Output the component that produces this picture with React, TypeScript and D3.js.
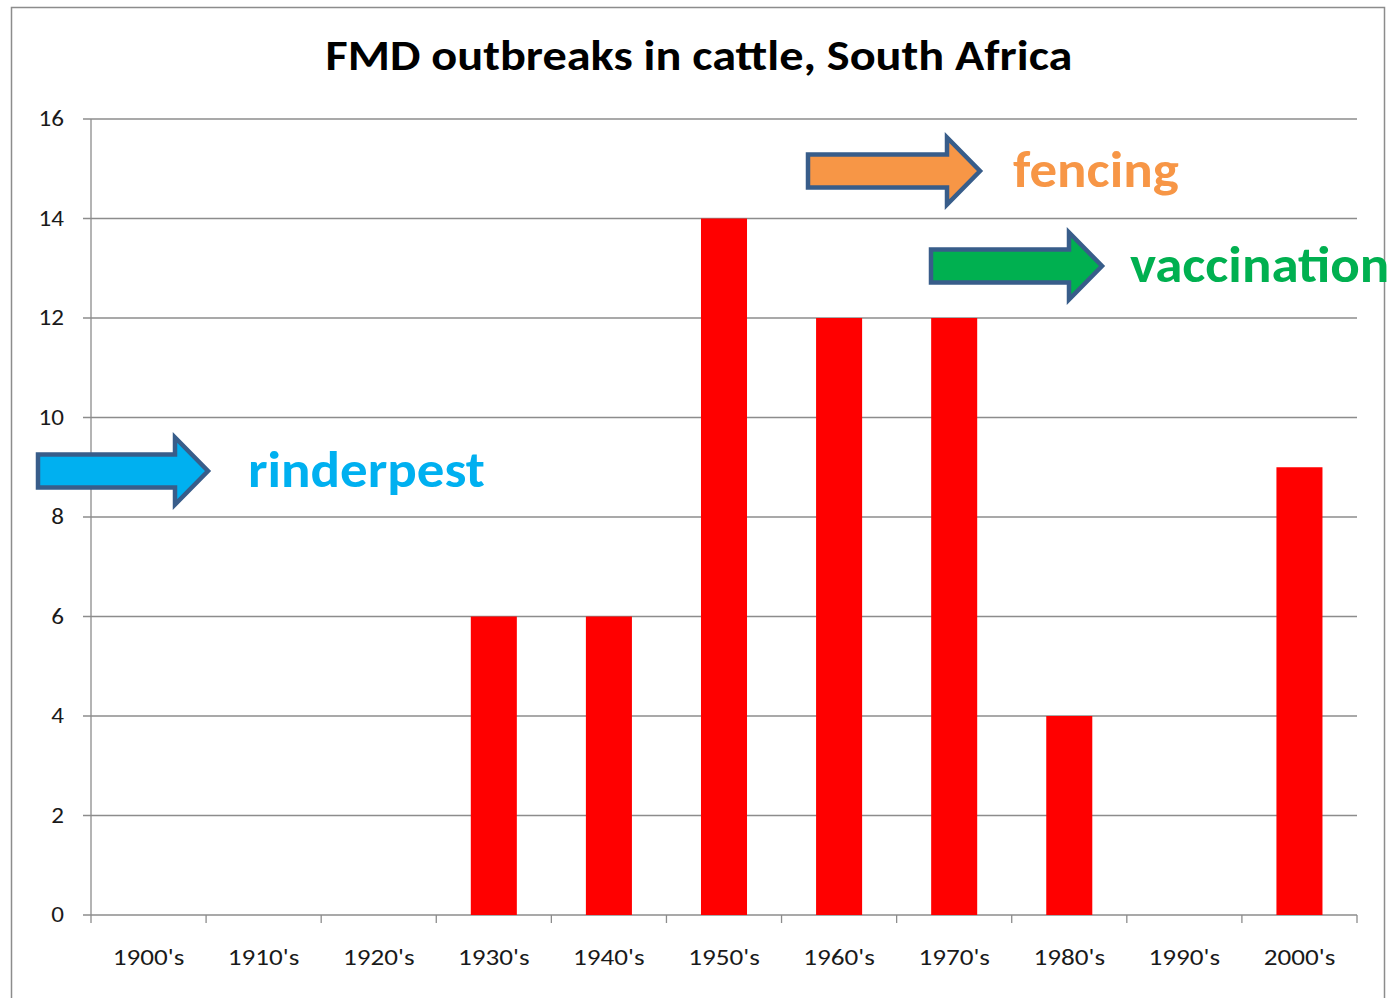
import React from "react";
import * as d3 from "d3";

const categories = ["1900's", "1910's", "1920's", "1930's", "1940's", "1950's", "1960's", "1970's", "1980's", "1990's", "2000's"];
const outbreaks = [0, 0, 0, 6, 6, 14, 12, 12, 4, 0, 9];
const yTicks = [0, 2, 4, 6, 8, 10, 12, 14, 16];
const titleText = "FMD outbreaks in cattle, South Africa";
const annotations = [
  { label: "rinderpest", color: "#00B0F0", x0: 38, x1: 208, y: 471, tx: 248 },
  { label: "fencing", color: "#F79646", x0: 808, x1: 980, y: 171, tx: 1013 },
  { label: "vaccination", color: "#00B050", x0: 931, x1: 1102, y: 266, tx: 1130 },
];

const W = 1390, H = 998;
const left = 91, right = 1357, top = 119, bottom = 915;
const FONT = "Carlito, Calibri, Lato, 'Open Sans', sans-serif";

function arrowPath(x0: number, x1: number, y: number) {
  const sh = 16.5;
  const hh = 33.5;
  const hx = x1 - 33;
  return `M${x0},${y - sh} L${hx},${y - sh} L${hx},${y - hh} L${x1},${y} L${hx},${y + hh} L${hx},${y + sh} L${x0},${y + sh} Z`;
}

function SText(props: { x: number; y: number; sx: number; anchor?: string; size: number; weight?: string; fill: string; children: React.ReactNode }) {
  return (
    <text
      transform={`translate(${props.x},${props.y}) scale(${props.sx},1)`}
      textAnchor={props.anchor || "start"}
      fontFamily={FONT}
      fontSize={props.size}
      fontWeight={props.weight || "normal"}
      fill={props.fill}
    >
      {props.children}
    </text>
  );
}

export default function App() {
  const x = d3.scaleBand<string>().domain(categories).range([left, right]).paddingInner(0.6).paddingOuter(0.3);
  const xb = d3.scaleBand<string>().domain(categories).range([left, right]);
  const y = d3.scaleLinear().domain([0, 16]).range([bottom, top]);
  const gridColor = "#8c8c8c";
  return (
    <svg width={W} height={H} style={{ position: "absolute", left: 0, top: 0, background: "#fff" }}>
      <rect x={11.5} y={7.5} width={1373} height={1000} fill="#fff" stroke="#8c8c8c" strokeWidth={1.5} />
      <SText x={699} y={70} sx={1.15} anchor="middle" size={42} weight="bold" fill="#000">{titleText}</SText>
      {yTicks.map((t) => (
        <g key={t}>
          <line x1={left - 8} x2={right} y1={y(t)} y2={y(t)} stroke={gridColor} strokeWidth={1.3} />
          <SText x={64} y={y(t) + 7} sx={1.14} anchor="end" size={22} fill="#1a1a1a">{t}</SText>
        </g>
      ))}
      <line x1={left} x2={left} y1={top} y2={bottom} stroke={gridColor} strokeWidth={1.3} />
      {categories.map((c) => (
        <line key={"t" + c} x1={xb(c)!} x2={xb(c)!} y1={bottom} y2={bottom + 8} stroke={gridColor} strokeWidth={1.3} />
      ))}
      <line x1={right} x2={right} y1={bottom} y2={bottom + 8} stroke={gridColor} strokeWidth={1.3} />
      {categories.map((c, i) =>
        outbreaks[i] > 0 ? (
          <rect key={"b" + c} x={x(c)!} y={y(outbreaks[i])} width={x.bandwidth()} height={bottom - y(outbreaks[i])} fill="#FF0000" />
        ) : null
      )}
      {categories.map((c) => (
        <SText key={"l" + c} x={xb(c)! + xb.bandwidth() / 2} y={965} sx={1.18} anchor="middle" size={23} fill="#1a1a1a">{c}</SText>
      ))}
      {annotations.map((a) => (
        <g key={a.label}>
          <path d={arrowPath(a.x0, a.x1, a.y)} fill={a.color} stroke="#385D8A" strokeWidth={4.5} strokeLinejoin="miter" />
          <SText x={a.tx} y={a.y + 16} sx={1.1} size={50} weight="bold" fill={a.color}>{a.label}</SText>
        </g>
      ))}
    </svg>
  );
}
